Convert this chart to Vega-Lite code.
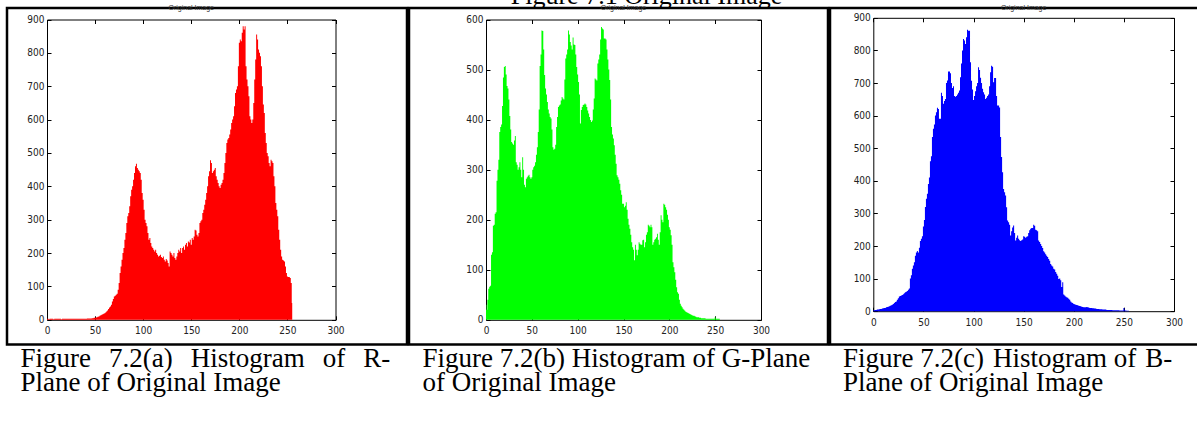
{
"$schema": "https://vega.github.io/schema/vega-lite/v6.json",
"padding": {"left": 5, "top": 0, "right": 0, "bottom": 0},
"background": "white",
"datasets": {"h": [
{"i":0,"r":3,"g":30,"b":3},{"i":1,"r":3,"g":20,"b":3},{"i":2,"r":2,"g":40,"b":4},{"i":3,"r":3,"g":62,"b":4},{"i":4,"r":3,"g":66,"b":5},
{"i":5,"r":3,"g":68,"b":5},{"i":6,"r":3,"g":130,"b":6},{"i":7,"r":2,"g":135,"b":7},{"i":8,"r":3,"g":188,"b":7},{"i":9,"r":3,"g":190,"b":8},
{"i":10,"r":3,"g":212,"b":9},{"i":11,"r":3,"g":215,"b":10},{"i":12,"r":3,"g":278,"b":10},{"i":13,"r":3,"g":300,"b":12},{"i":14,"r":3,"g":320,"b":13},
{"i":15,"r":2,"g":375,"b":14},{"i":16,"r":3,"g":385,"b":15},{"i":17,"r":3,"g":390,"b":17},{"i":18,"r":3,"g":427,"b":18},{"i":19,"r":3,"g":484,"b":20},
{"i":20,"r":3,"g":505,"b":22},{"i":21,"r":3,"g":507,"b":25},{"i":22,"r":3,"g":490,"b":28},{"i":23,"r":3,"g":467,"b":30},{"i":24,"r":3,"g":462,"b":35},
{"i":25,"r":3,"g":440,"b":40},{"i":26,"r":3,"g":407,"b":45},{"i":27,"r":3,"g":380,"b":47},{"i":28,"r":3,"g":355,"b":48},{"i":29,"r":3,"g":352,"b":50},
{"i":30,"r":3,"g":350,"b":52},{"i":31,"r":3,"g":358,"b":55},{"i":32,"r":3,"g":367,"b":58},{"i":33,"r":3,"g":315,"b":60},{"i":34,"r":3,"g":310,"b":62},
{"i":35,"r":3,"g":300,"b":66},{"i":36,"r":3,"g":305,"b":70},{"i":37,"r":3,"g":315,"b":100},{"i":38,"r":3,"g":300,"b":110},{"i":39,"r":3,"g":285,"b":130},
{"i":40,"r":3,"g":325,"b":140},{"i":41,"r":3,"g":300,"b":150},{"i":42,"r":4,"g":270,"b":170},{"i":43,"r":4,"g":265,"b":180},{"i":44,"r":4,"g":282,"b":185},
{"i":45,"r":4,"g":285,"b":180},{"i":46,"r":4,"g":288,"b":195},{"i":47,"r":5,"g":290,"b":215},{"i":48,"r":5,"g":285,"b":222},{"i":49,"r":6,"g":282,"b":230},
{"i":50,"r":6,"g":285,"b":260},{"i":51,"r":7,"g":300,"b":280},{"i":52,"r":8,"g":305,"b":320},{"i":53,"r":9,"g":308,"b":345},{"i":54,"r":10,"g":315,"b":360},
{"i":55,"r":12,"g":330,"b":390},{"i":56,"r":14,"g":345,"b":410},{"i":57,"r":15,"g":375,"b":460},{"i":58,"r":17,"g":420,"b":475},{"i":59,"r":18,"g":507,"b":534},
{"i":60,"r":20,"g":530,"b":560},{"i":61,"r":22,"g":578,"b":573},{"i":62,"r":25,"g":577,"b":600},{"i":63,"r":28,"g":540,"b":610},{"i":64,"r":32,"g":489,"b":624},
{"i":65,"r":37,"g":462,"b":620},{"i":66,"r":40,"g":450,"b":590},{"i":67,"r":45,"g":435,"b":590},{"i":68,"r":55,"g":420,"b":670},{"i":69,"r":62,"g":412,"b":660},
{"i":70,"r":70,"g":405,"b":636},{"i":71,"r":72,"g":402,"b":645},{"i":72,"r":75,"g":380,"b":651},{"i":73,"r":78,"g":345,"b":700},{"i":74,"r":90,"g":340,"b":708},
{"i":75,"r":110,"g":342,"b":735},{"i":76,"r":140,"g":350,"b":735},{"i":77,"r":160,"g":385,"b":730},{"i":78,"r":180,"g":405,"b":700},{"i":79,"r":200,"g":425,"b":685},
{"i":80,"r":215,"g":428,"b":690},{"i":81,"r":240,"g":430,"b":660},{"i":82,"r":260,"g":438,"b":658},{"i":83,"r":290,"g":445,"b":660},{"i":84,"r":310,"g":442,"b":665},
{"i":85,"r":320,"g":440,"b":670},{"i":86,"r":340,"g":480,"b":677},{"i":87,"r":370,"g":522,"b":718},{"i":88,"r":390,"g":530,"b":760},{"i":89,"r":400,"g":540,"b":800},
{"i":90,"r":420,"g":578,"b":835},{"i":91,"r":440,"g":570,"b":830},{"i":92,"r":460,"g":555,"b":820},{"i":93,"r":468,"g":548,"b":840},{"i":94,"r":455,"g":540,"b":863},
{"i":95,"r":450,"g":564,"b":860},{"i":96,"r":445,"g":550,"b":860},{"i":97,"r":440,"g":549,"b":764},{"i":98,"r":420,"g":530,"b":707},{"i":99,"r":380,"g":505,"b":680},
{"i":100,"r":360,"g":490,"b":648},{"i":101,"r":330,"g":475,"b":660},{"i":102,"r":300,"g":450,"b":675},{"i":103,"r":290,"g":392,"b":690},{"i":104,"r":280,"g":419,"b":700},
{"i":105,"r":260,"g":425,"b":748},{"i":106,"r":240,"g":429,"b":740},{"i":107,"r":245,"g":430,"b":716},{"i":108,"r":230,"g":432,"b":700},{"i":109,"r":220,"g":430,"b":682},
{"i":110,"r":215,"g":425,"b":672},{"i":111,"r":210,"g":418,"b":665},{"i":112,"r":205,"g":412,"b":651},{"i":113,"r":210,"g":405,"b":655},{"i":114,"r":200,"g":399,"b":660},
{"i":115,"r":195,"g":395,"b":665},{"i":116,"r":190,"g":398,"b":690},{"i":117,"r":192,"g":420,"b":733},{"i":118,"r":195,"g":442,"b":753},{"i":119,"r":188,"g":482,"b":750},
{"i":120,"r":185,"g":480,"b":702},{"i":121,"r":190,"g":478,"b":715},{"i":122,"r":180,"g":512,"b":715},{"i":123,"r":175,"g":520,"b":660},{"i":124,"r":182,"g":530,"b":631},
{"i":125,"r":178,"g":560,"b":631},{"i":126,"r":170,"g":585,"b":625},{"i":127,"r":160,"g":582,"b":534},{"i":128,"r":205,"g":580,"b":473},{"i":129,"r":200,"g":562,"b":426},
{"i":130,"r":195,"g":562,"b":375},{"i":131,"r":190,"g":560,"b":365},{"i":132,"r":200,"g":540,"b":355},{"i":133,"r":185,"g":520,"b":319},{"i":134,"r":180,"g":500,"b":278},
{"i":135,"r":190,"g":479,"b":273},{"i":136,"r":200,"g":440,"b":265},{"i":137,"r":210,"g":385,"b":232},{"i":138,"r":205,"g":370,"b":245},{"i":139,"r":215,"g":362,"b":257},
{"i":140,"r":200,"g":349,"b":263},{"i":141,"r":215,"g":330,"b":240},{"i":142,"r":220,"g":312,"b":217},{"i":143,"r":210,"g":289,"b":225},{"i":144,"r":225,"g":285,"b":232},
{"i":145,"r":230,"g":280,"b":222},{"i":146,"r":220,"g":272,"b":218},{"i":147,"r":235,"g":259,"b":215},{"i":148,"r":232,"g":250,"b":218},{"i":149,"r":240,"g":232,"b":220},
{"i":150,"r":225,"g":232,"b":230},{"i":151,"r":245,"g":225,"b":228},{"i":152,"r":240,"g":228,"b":225},{"i":153,"r":250,"g":235,"b":228},{"i":154,"r":270,"g":220,"b":230},
{"i":155,"r":268,"g":202,"b":240},{"i":156,"r":255,"g":190,"b":248},{"i":157,"r":250,"g":182,"b":253},{"i":158,"r":260,"g":170,"b":255},{"i":159,"r":290,"g":155,"b":255},
{"i":160,"r":295,"g":145,"b":265},{"i":161,"r":300,"g":140,"b":262},{"i":162,"r":320,"g":119,"b":250},{"i":163,"r":330,"g":150,"b":248},{"i":164,"r":345,"g":140,"b":245},
{"i":165,"r":360,"g":129,"b":217},{"i":166,"r":380,"g":140,"b":212},{"i":167,"r":400,"g":155,"b":206},{"i":168,"r":430,"g":152,"b":200},{"i":169,"r":445,"g":150,"b":194},
{"i":170,"r":478,"g":150,"b":184},{"i":171,"r":470,"g":159,"b":180},{"i":172,"r":440,"g":160,"b":175},{"i":173,"r":445,"g":145,"b":170},{"i":174,"r":450,"g":155,"b":166},
{"i":175,"r":455,"g":170,"b":160},{"i":176,"r":430,"g":175,"b":155},{"i":177,"r":420,"g":190,"b":145},{"i":178,"r":410,"g":188,"b":140},{"i":179,"r":400,"g":185,"b":137},
{"i":180,"r":395,"g":190,"b":130},{"i":181,"r":405,"g":185,"b":128},{"i":182,"r":410,"g":150,"b":120},{"i":183,"r":420,"g":155,"b":115},{"i":184,"r":440,"g":160,"b":109},
{"i":185,"r":470,"g":162,"b":99},{"i":186,"r":500,"g":165,"b":100},{"i":187,"r":530,"g":172,"b":95},{"i":188,"r":540,"g":160,"b":74},{"i":189,"r":545,"g":150,"b":89},
{"i":190,"r":555,"g":175,"b":51},{"i":191,"r":570,"g":209,"b":48},{"i":192,"r":590,"g":200,"b":45},{"i":193,"r":600,"g":195,"b":43},{"i":194,"r":610,"g":232,"b":41},
{"i":195,"r":640,"g":230,"b":38},{"i":196,"r":680,"g":225,"b":35},{"i":197,"r":690,"g":220,"b":30},{"i":198,"r":700,"g":210,"b":27},{"i":199,"r":760,"g":200,"b":25},
{"i":200,"r":830,"g":185,"b":22},{"i":201,"r":840,"g":180,"b":21},{"i":202,"r":835,"g":169,"b":20},{"i":203,"r":860,"g":150,"b":19},{"i":204,"r":880,"g":115,"b":18},
{"i":205,"r":870,"g":105,"b":17},{"i":206,"r":880,"g":95,"b":16},{"i":207,"r":760,"g":80,"b":15},{"i":208,"r":720,"g":65,"b":14},{"i":209,"r":700,"g":55,"b":13},
{"i":210,"r":670,"g":52,"b":12},{"i":211,"r":610,"g":40,"b":12},{"i":212,"r":600,"g":32,"b":12},{"i":213,"r":590,"g":28,"b":13},{"i":214,"r":600,"g":25,"b":12},
{"i":215,"r":650,"g":22,"b":11},{"i":216,"r":720,"g":20,"b":10},{"i":217,"r":780,"g":18,"b":10},{"i":218,"r":855,"g":16,"b":10},{"i":219,"r":840,"g":15,"b":9},
{"i":220,"r":810,"g":14,"b":9},{"i":221,"r":800,"g":13,"b":8},{"i":222,"r":790,"g":12,"b":8},{"i":223,"r":760,"g":11,"b":7},{"i":224,"r":700,"g":10,"b":7},
{"i":225,"r":645,"g":9,"b":7},{"i":226,"r":620,"g":8,"b":6},{"i":227,"r":560,"g":8,"b":6},{"i":228,"r":530,"g":7,"b":6},{"i":229,"r":500,"g":6,"b":5},
{"i":230,"r":490,"g":5,"b":5},{"i":231,"r":470,"g":5,"b":5},{"i":232,"r":460,"g":5,"b":5},{"i":233,"r":480,"g":4,"b":4},{"i":234,"r":475,"g":4,"b":4},
{"i":235,"r":470,"g":3,"b":4},{"i":236,"r":430,"g":3,"b":4},{"i":237,"r":400,"g":3,"b":4},{"i":238,"r":350,"g":3,"b":4},{"i":239,"r":330,"g":3,"b":3},
{"i":240,"r":310,"g":2,"b":3},{"i":241,"r":270,"g":2,"b":3},{"i":242,"r":240,"g":2,"b":3},{"i":243,"r":210,"g":2,"b":3},{"i":244,"r":190,"g":2,"b":3},
{"i":245,"r":180,"g":2,"b":3},{"i":246,"r":178,"g":2,"b":2},{"i":247,"r":175,"g":2,"b":2},{"i":248,"r":160,"g":2,"b":2},{"i":249,"r":140,"g":2,"b":2},
{"i":250,"r":130,"g":5,"b":10},{"i":251,"r":128,"g":2,"b":2},{"i":252,"r":128,"g":2,"b":2},{"i":253,"r":125,"g":2,"b":1},{"i":254,"r":110,"g":2,"b":1},
{"i":255,"r":50,"g":2,"b":1}
]},
"config": {
  "view": {"stroke": "black", "strokeWidth": 2.5},
  "axis": {"domainColor": "black", "domainWidth": 1, "tickColor": "black", "tickSize": -4, "tickWidth": 1, "grid": false, "title": null,
           "labelFont": "Liberation Sans Narrow, DejaVu Sans Condensed, sans-serif", "labelFontSize": 10, "labelColor": "#222",
           "labelFlush": false, "labelOverlap": false},
  "title": {"font": "Liberation Serif", "fontSize": 27, "fontWeight": "normal", "color": "black", "anchor": "start", "frame": "group",
            "orient": "top", "offset": -51.5, "lineHeight": 23.3, "baseline": "alphabetic"}
},
"spacing": 0,
"bounds": "flush",
"vconcat": [
  {
    "width": 1190, "height": 7.5,
    "view": {"stroke": null},
    "data": {"values": [{}]},
    "mark": {"type": "text", "clip": true, "text": "Figure 7.1 Original Image", "font": "Liberation Serif", "fontSize": 26, "baseline": "alphabetic", "dx": 44.5, "dy": 0, "color": "black"}
  },
  {
    "spacing": -4,
    "hconcat": [
      {
        "spacing": 0, "bounds": "flush",
        "vconcat": [
          {
            "width": 400, "height": 336.5,
            "data": {"name": "h"},
            "layer": [
              {"mark": {"type": "area", "interpolate": "step", "color": "#ff0000"},
               "encoding": {
                 "x": {"field": "i", "type": "quantitative", "scale": {"domain": [0, 300], "range": [40, 328.5], "nice": false},
                       "axis": {"orient": "bottom", "offset": -24.7, "values": [0,50,100,150,200,250,300], "labelPadding": 10}},
                 "y": {"field": "r", "type": "quantitative", "scale": {"domain": [0, 900], "range": [311.8, 11.5], "nice": false},
                       "axis": {"orient": "left", "offset": -40, "values": [0,100,200,300,400,500,600,700,800,900], "labelPadding": 7}}}},
              {"mark": {"type": "point", "opacity": 0},
               "encoding": {
                 "x": {"field": "i", "type": "quantitative", "axis": {"orient": "top", "offset": -11.5, "labels": false, "values": [0,50,100,150,200,250,300]}},
                 "y": {"field": "r", "type": "quantitative", "axis": {"orient": "right", "offset": -71.5, "labels": false, "values": [0,100,200,300,400,500,600,700,800,900]}}}},
              {"data": {"values": [{}]},
               "mark": {"type": "text", "text": "Original Image", "font": "Liberation Sans", "fontSize": 7, "dy": -11.5, "color": "#333"},
               "encoding": {"x": {"datum": 150, "type": "quantitative", "axis": null}, "y": {"datum": 900, "type": "quantitative", "axis": null}}}
            ],
            "resolve": {"axis": {"x": "independent", "y": "independent"}}
          },
          {
            "width": 400, "height": 100,
            "data": {"values": [{}]},
            "mark": {"type": "text", "text": ""},
            "title": {"text": ["Figure\u2002\u20067.2(a)\u2002\u2006Histogram\u2002\u2006of\u2002\u2006R-", "Plane of Original Image"], "dx": 13.5}
          }
        ]
      },
      {
        "spacing": 0, "bounds": "flush",
        "vconcat": [
          {
            "width": 419, "height": 336.5,
            "data": {"name": "h"},
            "layer": [
              {"mark": {"type": "area", "interpolate": "step", "color": "#00ff00"},
               "encoding": {
                 "x": {"field": "i", "type": "quantitative", "scale": {"domain": [0, 300], "range": [77, 352], "nice": false},
                       "axis": {"orient": "bottom", "offset": -24.7, "values": [0,50,100,150,200,250,300], "labelPadding": 10}},
                 "y": {"field": "g", "type": "quantitative", "scale": {"domain": [0, 600], "range": [311.8, 11.5], "nice": false},
                       "axis": {"orient": "left", "offset": -77, "values": [0,100,200,300,400,500,600], "labelPadding": 7}}}},
              {"mark": {"type": "point", "opacity": 0},
               "encoding": {
                 "x": {"field": "i", "type": "quantitative", "axis": {"orient": "top", "offset": -11.5, "labels": false, "values": [0,50,100,150,200,250,300]}},
                 "y": {"field": "g", "type": "quantitative", "axis": {"orient": "right", "offset": -67, "labels": false, "values": [0,100,200,300,400,500,600]}}}},
              {"data": {"values": [{}]},
               "mark": {"type": "text", "text": "Original Image", "font": "Liberation Sans", "fontSize": 7, "dy": -12, "color": "#333"},
               "encoding": {"x": {"datum": 150, "type": "quantitative", "axis": null}, "y": {"datum": 600, "type": "quantitative", "axis": null}}}
            ],
            "resolve": {"axis": {"x": "independent", "y": "independent"}}
          },
          {
            "width": 419, "height": 100,
            "data": {"values": [{}]},
            "mark": {"type": "text", "text": ""},
            "title": {"text": ["Figure 7.2(b) Histogram of G-Plane", "of Original Image"], "dx": 13.5}
          }
        ]
      },
      {
        "spacing": 0, "bounds": "flush",
        "vconcat": [
          {
            "width": 381, "height": 336.5,
            "data": {"name": "h"},
            "layer": [
              {"mark": {"type": "area", "interpolate": "step", "color": "#0000ff"},
               "encoding": {
                 "x": {"field": "i", "type": "quantitative", "scale": {"domain": [0, 300], "range": [43.3, 344], "nice": false},
                       "axis": {"orient": "bottom", "offset": -33.3, "values": [0,50,100,150,200,250,300], "labelPadding": 10}},
                 "y": {"field": "b", "type": "quantitative", "scale": {"domain": [0, 900], "range": [303.2, 9.8], "nice": false},
                       "axis": {"orient": "left", "offset": -43.3, "values": [0,100,200,300,400,500,600,700,800,900], "labelPadding": 7}}}},
              {"mark": {"type": "point", "opacity": 0},
               "encoding": {
                 "x": {"field": "i", "type": "quantitative", "axis": {"orient": "top", "offset": -9.8, "labels": false, "values": [0,50,100,150,200,250,300]}},
                 "y": {"field": "b", "type": "quantitative", "axis": {"orient": "right", "offset": -37, "labels": false, "values": [0,100,200,300,400,500,600,700,800,900]}}}},
              {"data": {"values": [{}]},
               "mark": {"type": "text", "text": "Original Image", "font": "Liberation Sans", "fontSize": 7, "dy": -10, "color": "#333"},
               "encoding": {"x": {"datum": 150, "type": "quantitative", "axis": null}, "y": {"datum": 900, "type": "quantitative", "axis": null}}}
            ],
            "resolve": {"axis": {"x": "independent", "y": "independent"}}
          },
          {
            "width": 381, "height": 100,
            "data": {"values": [{}]},
            "mark": {"type": "text", "text": ""},
            "title": {"text": ["Figure 7.2(c) \u200aHistogram of \u200aB-", "Plane of Original Image"], "dx": 13}
          }
        ]
      }
    ]
  }
]
}
